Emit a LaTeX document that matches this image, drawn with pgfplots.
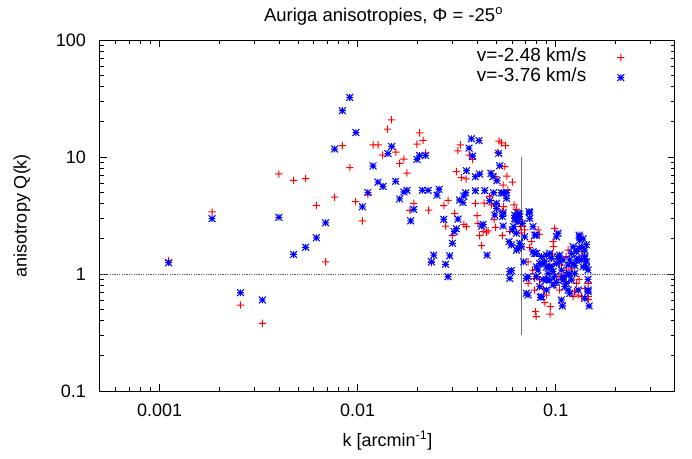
\documentclass[border=0pt]{standalone}
\usepackage{pgfplots}
\usepackage{pgfplotstable}
\pgfplotsset{compat=1.18}
\usepackage{fontspec}
\setmainfont{Liberation Sans}

\definecolor{gpred}{RGB}{255,0,0}
\definecolor{gpblue}{RGB}{0,0,255}

% gnuplot-style plus, red, built from two filled bars
\pgfdeclareplotmark{gpplus}{%
  \pgfsetfillcolor{gpred}%
  \pgfsetstrokecolor{gpred}%
  \pgfpathrectanglecorners{\pgfqpoint{-\pgfplotmarksize}{-0.5pt}}{\pgfqpoint{\pgfplotmarksize}{0.5pt}}%
  \pgfpathrectanglecorners{\pgfqpoint{-0.5pt}{-\pgfplotmarksize}}{\pgfqpoint{0.5pt}{\pgfplotmarksize}}%
  \pgfusepathqfill}

% gnuplot-style star: a plus and a cross on top of each other, blue
\pgfdeclareplotmark{gpstar}{%
  \pgfsetstrokecolor{gpblue}%
  \pgfpathmoveto{\pgfqpoint{-\pgfplotmarksize}{0pt}}%
  \pgfpathlineto{\pgfqpoint{\pgfplotmarksize}{0pt}}%
  \pgfpathmoveto{\pgfqpoint{0pt}{-\pgfplotmarksize}}%
  \pgfpathlineto{\pgfqpoint{0pt}{\pgfplotmarksize}}%
  \pgfpathmoveto{\pgfqpoint{-\pgfplotmarksize}{-\pgfplotmarksize}}%
  \pgfpathlineto{\pgfqpoint{\pgfplotmarksize}{\pgfplotmarksize}}%
  \pgfpathmoveto{\pgfqpoint{-\pgfplotmarksize}{\pgfplotmarksize}}%
  \pgfpathlineto{\pgfqpoint{\pgfplotmarksize}{-\pgfplotmarksize}}%
  \pgfusepathqstroke}

% anisotropy Q(k) for v = -2.48 km/s
\pgfplotstableread{
k Q
0.00111 1.30
0.00184 3.39
0.00256 0.543
0.0033 0.379
0.0040 7.16
0.00475 6.32
0.00546 6.55
0.00619 3.85
0.00689 1.27
0.00765 4.53
0.00837 12.5
0.00912 8.13
0.00977 4.15
0.01056 2.84
0.01127 4.76
0.01195 12.7
0.01269 12.7
0.01335 10.4
0.01414 17.3
0.01479 20.8
0.0156 11.0
0.0163 8.83
0.0171 9.61
0.01774 7.30
0.01832 3.50
0.0192 4.02
0.01993 12.9
0.02056 16.1
0.02137 13.9
0.0220 10.8
0.02284 3.52
0.02356 1.25
0.0272 3.85
0.0278 2.57
0.02858 4.26
0.03008 2.13
0.0309 3.30
0.0315 7.49
0.0321 11.3
0.0330 12.7
0.0334 6.65
0.0344 2.66
0.0353 6.49
0.0354 2.54
0.0365 10.4
0.0380 9.55
0.0393 4.02
0.0401 3.16
0.0405 2.71
0.0413 2.13
0.0422 1.75
0.0430 2.30
0.0435 4.04
0.0447 2.28
0.0455 2.34
0.0464 4.60
0.0473 3.89
0.0488 2.92
0.0497 2.50
0.0501 3.90
0.0498 6.79
0.0517 13.7
0.0532 13.2
0.0559 12.5
0.0511 10.97
0.0553 8.26
0.0567 6.88
0.0542 5.76
0.0574 5.22
0.0604 6.11
0.0538 3.41
0.0538 2.13
0.0546 3.76
0.0586 2.30
0.0616 3.89
0.0632 3.57
0.0639 3.32
0.0645 2.89
0.0663 2.54
0.0671 2.25
0.0697 2.38
0.0739 1.68
0.0754 1.89
0.0763 1.08
0.0783 0.730
0.0725 0.833
0.0814 2.38
0.0824 2.18
0.0790 0.476
0.0797 0.433
0.0880 0.568
0.0940 0.526
0.0936 0.455
0.0988 2.46
0.0969 1.89
0.0977 1.71
0.0962 1.48
0.1068 1.19
0.1089 0.919
0.1154 1.60
0.1247 0.706
0.1296 0.661
0.1349 0.640
0.1272 0.833
0.1374 1.55
0.1401 0.755
0.1456 0.642
0.1460 0.605
0.1456 0.833
0.0863 0.755
0.0897 0.661
0.1027 0.948
0.1132 1.08
0.0725 1.27
0.0783 0.919
0.1089 0.98
0.1110 0.859
0.0830 0.889
0.1047 0.730
0.1223 0.640
0.0933 1.19
0.1027 1.36
0.1200 1.10
0.1129 1.41
0.0988 0.80
0.1311 0.90
}\lowvel

% anisotropy Q(k) for v = -3.76 km/s
\pgfplotstableread{
k Q
0.00111 1.25
0.00184 2.97
0.00256 0.692
0.0033 0.600
0.0040 3.05
0.00475 1.47
0.00546 1.69
0.00619 2.04
0.00689 2.74
0.00765 11.7
0.00837 24.9
0.00912 32.3
0.0098 16.2
0.01056 3.75
0.01127 4.97
0.01195 8.38
0.01266 6.11
0.01342 5.60
0.01422 10.7
0.01485 12.3
0.01555 6.20
0.0163 4.38
0.0171 5.02
0.01774 5.19
0.01853 2.85
0.0192 3.57
0.01993 9.55
0.02056 10.3
0.0220 10.3
0.02122 5.19
0.0227 5.19
0.02574 5.30
0.02515 4.73
0.0242 1.45
0.02356 1.27
0.0272 2.93
0.0278 1.21
0.02858 0.948
0.02915 1.43
0.03008 1.83
0.0307 2.30
0.0315 2.44
0.0321 2.95
0.0327 4.29
0.0340 4.08
0.0344 4.64
0.0351 4.95
0.0354 7.64
0.0375 14.3
0.0410 13.8
0.0365 11.9
0.0380 10.2
0.0393 6.79
0.0413 7.16
0.0393 5.15
0.0438 5.15
0.0430 2.66
0.0422 2.57
0.0471 7.26
0.0482 6.79
0.0486 4.95
0.0502 4.02
0.0521 8.43
0.0515 10.75
0.0505 6.27
0.0542 4.90
0.0564 4.95
0.0564 4.44
0.0492 3.19
0.0542 3.34
0.0621 2.99
0.0653 3.26
0.0739 3.34
0.0739 2.99
0.0768 2.54
0.0532 4.95
0.0538 3.09
0.0542 2.57
0.0581 1.89
0.0597 1.77
0.0604 2.38
0.0614 2.54
0.0597 1.07
0.0586 0.919
0.0628 2.93
0.0645 3.30
0.0658 3.09
0.0633 1.60
0.0645 1.66
0.0671 1.71
0.0679 2.71
0.0697 2.08
0.0689 1.27
0.0733 3.41
0.0725 0.948
0.0725 0.661
0.0783 2.15
0.0768 1.55
0.0799 1.50
0.0799 1.15
0.0814 1.08
0.0837 0.632
0.0863 1.23
0.0897 1.15
0.0915 1.01
0.0933 0.889
0.0951 1.15
0.1008 2.08
0.1027 1.41
0.1047 1.27
0.1068 0.600
0.1081 0.533
0.1089 0.889
0.1110 0.779
0.1154 0.730
0.1167 1.01
0.1177 1.32
0.1200 1.50
0.1223 1.71
0.1272 1.55
0.1296 1.36
0.1311 2.15
0.1322 1.95
0.1349 1.71
0.1374 1.15
0.1401 1.41
0.1429 1.27
0.1456 1.08
0.1456 0.706
0.1473 0.533
0.0897 0.889
0.0830 1.23
0.0799 0.948
0.0645 2.80
0.0633 2.23
0.0658 1.83
0.0783 1.50
0.0880 1.27
0.0933 1.15
0.1008 1.23
0.1047 1.45
0.0988 0.948
0.1089 0.948
0.1132 0.833
0.1200 0.889
0.1247 1.01
0.1272 1.32
0.1322 2.08
0.1401 1.36
0.1429 1.15
0.1456 0.730
0.0847 0.640
0.0830 0.779
0.0897 0.730
0.0969 0.805
0.1177 0.684
0.1296 0.730
0.0933 1.50
0.0847 1.41
0.1027 2.23
0.0621 3.19
0.0799 2.15
0.0450 1.45
0.0586 1.05
0.0711 0.919
0.0711 0.684
0.0464 4.23
0.0502 3.64
0.1068 1.08
0.1154 1.19
0.1223 1.23
0.1349 1.32
0.1401 1.60
0.1429 1.78
0.1374 2.00
0.1311 1.66
0.0951 1.36
0.0897 1.45
0.1008 0.85
0.1089 1.32
0.0969 1.05
0.1154 0.98
0.0863 0.90
0.1456 0.90
0.1401 0.62
0.1247 1.18
}\highvel

\newcommand{\gpfont}{\fontsize{18}{21}\selectfont}

\begin{document}
\begin{tikzpicture}
\begin{axis}[
  xmode=log, ymode=log,
  scale only axis, width=575pt, height=351pt,
  xmin=0.0005, xmax=0.4, ymin=0.1, ymax=100,
  xtick={0.001,0.01,0.1}, xticklabels={0.001,0.01,0.1},
  ytick={0.1,1,10,100}, yticklabels={0.1,1,10,100},
  minor xtick={0.0006,0.0007,0.0008,0.0009,0.002,0.003,0.004,0.005,0.006,0.007,0.008,0.009,0.02,0.03,0.04,0.05,0.06,0.07,0.08,0.09,0.2,0.3},
  minor ytick={0.2,0.3,0.4,0.5,0.6,0.7,0.8,0.9,2,3,4,5,6,7,8,9,20,30,40,50,60,70,80,90},
  tick align=inside, major tick length=7pt, minor tick length=4pt,
  axis line style={line width=1pt},
  every tick/.style={draw=black, line width=0.6pt},
  ticklabel style={font=\gpfont},
  xticklabel style={anchor=base, yshift=-25.5pt},
  yticklabel style={anchor=east, inner sep=0pt, xshift=-14pt},
  title={Auriga anisotropies, Φ = -25\textsuperscript{o}},
  title style={font=\fontsize{18.5}{21}\selectfont, at={(0.5,1)}, anchor=base, yshift=13pt, xshift=-4pt},
  xlabel={k [arcmin\textsuperscript{-1}]},
  xlabel style={font=\gpfont, at={(0.5,0)}, anchor=base, yshift=-55pt},
  ylabel={anisotropy Q(k)},
  ylabel style={font=\gpfont, at={(0,0.5)}, anchor=center, rotate=0, yshift=78pt},
  legend plot pos=right,
  legend image code/.code={%
    \path[draw=none, fill=none] (0pt,-4pt) rectangle (40pt,4pt);
    \draw[mark repeat=2,mark phase=2,#1] plot coordinates {(0pt,0pt) (34pt,0pt) (40pt,0pt)};},
  legend style={at={(0.9165,0.979)}, anchor=north east, draw=none, fill=none,
    font=\fontsize{19}{21}\selectfont, inner sep=0pt, row sep=0pt,
    nodes={inner sep=0.5pt, text height=13pt, text depth=6pt},
    cells={anchor=east}},
]
\coordinate (SW) at (rel axis cs:0,0);
\coordinate (NE) at (rel axis cs:1,1);
\addplot[draw=black!65, line width=0.8pt, dash pattern=on 1.2pt off 1.2pt, forget plot]
  coordinates {(0.0005,1) (0.4,1)};
\addplot[only marks, mark=gpplus, mark size=3.7pt, draw=gpred, fill=gpred,
  mark options={draw=gpred, fill=gpred, solid}]
  table[x=k, y=Q] {\lowvel};
\addlegendentry{v=-2.48 km/s}
\addplot[only marks, mark=gpstar, mark size=3.4pt, draw=gpblue, line width=1.05pt,
  mark options={draw=gpblue, solid, line width=1.05pt}]
  table[x=k, y=Q] {\highvel};
\addlegendentry{v=-3.76 km/s}
\addplot[draw=black!55, line width=1.5pt, forget plot]
  coordinates {(0.067,0.3) (0.067,10)};
\end{axis}
\path[use as bounding box] ([shift={(-100pt,-67pt)}]SW) rectangle ([shift={(17pt,40pt)}]NE);
\end{tikzpicture}
\end{document}
